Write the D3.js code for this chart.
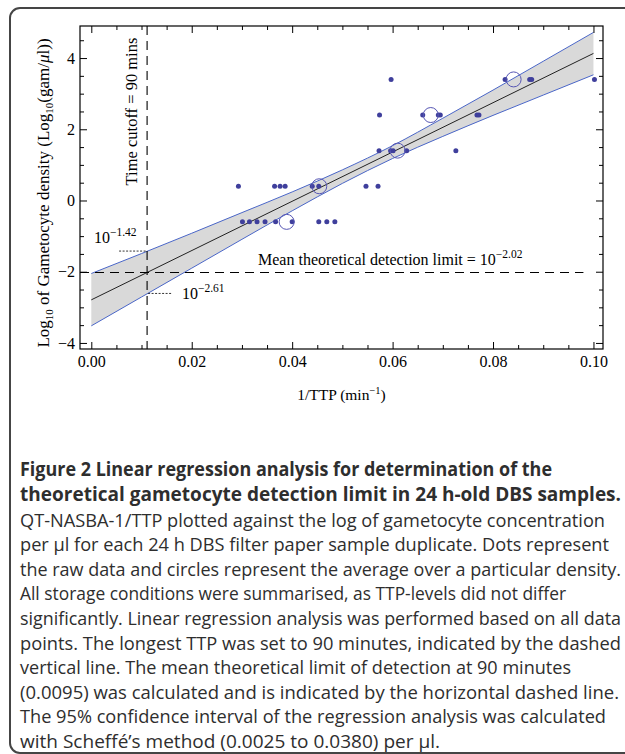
<!DOCTYPE html>
<html>
<head>
<meta charset="utf-8">
<script src="https://cdn.jsdelivr.net/npm/d3@7"></script>
<style>
  body { margin: 0; background: #fff; }
</style>
</head>
<body>
<div id="chart-container"></div>
<script>
// raw data points (1/TTP, log10 density)
const dotX = [
  0.0597, 0.0824, 0.0873, 0.0877, 0.1002,
  0.0574, 0.0660, 0.0691, 0.0695, 0.0768, 0.0772,
  0.0573, 0.0596, 0.0601, 0.0628, 0.0726,
  0.0293, 0.0365, 0.0376, 0.0386, 0.0440, 0.0453, 0.0547, 0.0571,
  0.0301, 0.0315, 0.0330, 0.0346, 0.0367, 0.0400, 0.0453, 0.0469, 0.0485
];
const dotY = [
  3.4, 3.4, 3.4, 3.4, 3.4,
  2.4, 2.4, 2.4, 2.4, 2.4, 2.4,
  1.4, 1.4, 1.4, 1.4, 1.4,
  0.4, 0.4, 0.4, 0.4, 0.4, 0.4, 0.4, 0.4,
  -0.6, -0.6, -0.6, -0.6, -0.6, -0.6, -0.6, -0.6, -0.6
];
// averages per density (open circles)
const meanX = [0.0841, 0.0676, 0.0610, 0.0454, 0.0389];
const meanY = [3.4, 2.4, 1.4, 0.4, -0.6];

// regression line and Scheffe band
const regX = [0, 0.1];
const regY = [-2.79, 4.13];
const bandX  = [0, 0.01, 0.02, 0.03, 0.04, 0.05, 0.06, 0.07, 0.08, 0.09, 0.10];
const bandHi = [-2.05, -1.49, -0.92, -0.34, 0.24, 0.86, 1.54, 2.31, 3.10, 3.91, 4.72];
const bandLo = [-3.52, -2.71, -1.90, -1.09, -0.29, 0.48, 1.18, 1.80, 2.39, 2.96, 3.53];

// reference lines
const cutoffX = 1 / 90;
const limitY = -2.02;
const limitEndX = 0.098;
const ciHi = -1.42;
const ciLo = -2.61;

// ticks
const xTicks = [0, 0.02, 0.04, 0.06, 0.08, 0.10];
const yTicks = [-4, -2, 0, 2, 4];

// caption
const captionBold = [
  "Figure 2 Linear regression analysis for determination of the",
  "theoretical gametocyte detection limit in 24 h-old DBS samples."
];
const captionText = [
  "QT-NASBA-1/TTP plotted against the log of gametocyte concentration",
  "per \u00b5l for each 24 h DBS filter paper sample duplicate. Dots represent",
  "the raw data and circles represent the average over a particular density.",
  "All storage conditions were summarised, as TTP-levels did not differ",
  "significantly. Linear regression analysis was performed based on all data",
  "points. The longest TTP was set to 90 minutes, indicated by the dashed",
  "vertical line. The mean theoretical limit of detection at 90 minutes",
  "(0.0095) was calculated and is indicated by the horizontal dashed line.",
  "The 95% confidence interval of the regression analysis was calculated",
  "with Scheff\u00e9\u2019s method (0.0025 to 0.0380) per \u00b5l."
];
// where each caption line ends in the printed figure (layout only)
const boldEnds = [552, 621];
const textEnds = [605, 609, 621, 566, 621, 621, 571, 619, 606, 440];

const W = 625, H = 754;
const plot = { left: 80, right: 603, top: 26, bottom: 349 };
const serif = "'Liberation Serif', 'Times New Roman', serif";
const sans = "'Open Sans', 'Noto Sans', sans-serif";
const dotColor = "#3f3f9c";
const bandColor = "#4a66c8";

const x = d3.scaleLinear().domain([-0.00225, 0.1019]).range([plot.left, plot.right]);
const y = d3.scaleLinear().domain([-4.17, 4.9]).range([plot.bottom, plot.top]);

const svg = d3.select("#chart-container")
  .append("svg")
  .attr("width", W)
  .attr("height", H);

// outer rounded frame (runs off the right/bottom edge)
svg.append("rect")
  .attr("x", 10).attr("y", 8)
  .attr("width", 700).attr("height", 745)
  .attr("rx", 10)
  .attr("fill", "none")
  .attr("stroke", "#454545")
  .attr("stroke-width", 2);

// confidence band
const bandData = bandX.map((d, i) => ({ x: d, lo: bandLo[i], hi: bandHi[i] }));
svg.append("path")
  .datum(bandData)
  .attr("fill", "#d9d9d9")
  .attr("d", d3.area().curve(d3.curveMonotoneX)
    .x(d => x(d.x)).y0(d => y(d.lo)).y1(d => y(d.hi)));

["hi", "lo"].forEach(k => {
  svg.append("path")
    .datum(bandData)
    .attr("fill", "none")
    .attr("stroke", bandColor)
    .attr("stroke-width", 1)
    .attr("d", d3.line().curve(d3.curveMonotoneX).x(d => x(d.x)).y(d => y(d[k])));
});

// regression line
svg.append("path")
  .datum(regX.map((d, i) => [d, regY[i]]))
  .attr("fill", "none")
  .attr("stroke", "#222")
  .attr("stroke-width", 1)
  .attr("d", d3.line().x(d => x(d[0])).y(d => y(d[1])));

// dashed cutoff + detection limit
svg.append("line")
  .attr("x1", x(cutoffX)).attr("x2", x(cutoffX))
  .attr("y1", plot.top).attr("y2", plot.bottom)
  .attr("stroke", "#000").attr("stroke-width", 1.1)
  .attr("stroke-dasharray", "9,6");
svg.append("line")
  .attr("x1", plot.left).attr("x2", x(limitEndX))
  .attr("y1", y(limitY)).attr("y2", y(limitY))
  .attr("stroke", "#000").attr("stroke-width", 1.1)
  .attr("stroke-dasharray", "9,6");

// short leaders for the CI at the cutoff
svg.append("line")
  .attr("x1", x(cutoffX) - 28).attr("x2", x(cutoffX) - 1)
  .attr("y1", y(ciHi)).attr("y2", y(ciHi))
  .attr("stroke", "#000").attr("stroke-width", 0.8)
  .attr("stroke-dasharray", "2,1.5");
svg.append("line")
  .attr("x1", x(cutoffX) + 1).attr("x2", x(cutoffX) + 24)
  .attr("y1", y(ciLo)).attr("y2", y(ciLo))
  .attr("stroke", "#000").attr("stroke-width", 0.8)
  .attr("stroke-dasharray", "2,1.5");

// data dots
svg.append("g")
  .selectAll("circle")
  .data(dotX.map((d, i) => [d, dotY[i]]))
  .join("circle")
  .attr("cx", d => x(d[0]))
  .attr("cy", d => y(d[1]))
  .attr("r", 2.5)
  .attr("fill", dotColor);

// average circles
svg.append("g")
  .selectAll("circle")
  .data(meanX.map((d, i) => [d, meanY[i]]))
  .join("circle")
  .attr("cx", d => x(d[0]))
  .attr("cy", d => y(d[1]))
  .attr("r", 7.5)
  .attr("fill", "none")
  .attr("stroke", "#5656b4")
  .attr("stroke-width", 1);

// frame axes, ticks pointing inward
function minor(lo, hi, step, majors) {
  return d3.range(lo, hi + step / 2, step)
    .filter(v => !majors.some(m => Math.abs(m - v) < 1e-9));
}
const xMinor = minor(0, 0.1, 0.005, xTicks);
const yMinor = minor(-4, 4.5, 0.5, yTicks);

function styleAxis(g) {
  g.select(".domain").remove();
  g.selectAll("line").attr("stroke", "#000");
  g.selectAll("text").attr("fill", "#000").style("font-family", serif).style("font-size", "16px");
}

svg.append("g").attr("transform", `translate(0,${plot.bottom})`)
  .call(d3.axisBottom(x).tickValues(xTicks).tickSizeInner(-7).tickSizeOuter(0)
    .tickPadding(7).tickFormat(d3.format(".2f"))).call(styleAxis);
svg.append("g").attr("transform", `translate(0,${plot.bottom})`)
  .call(d3.axisBottom(x).tickValues(xMinor).tickSizeInner(-4).tickSizeOuter(0).tickFormat(""))
  .call(styleAxis);
svg.append("g").attr("transform", `translate(0,${plot.top})`)
  .call(d3.axisTop(x).tickValues(xTicks).tickSizeInner(-7).tickSizeOuter(0).tickFormat(""))
  .call(styleAxis);
svg.append("g").attr("transform", `translate(0,${plot.top})`)
  .call(d3.axisTop(x).tickValues(xMinor).tickSizeInner(-4).tickSizeOuter(0).tickFormat(""))
  .call(styleAxis);

svg.append("g").attr("transform", `translate(${plot.left},0)`)
  .call(d3.axisLeft(y).tickValues(yTicks).tickSizeInner(-7).tickSizeOuter(0)
    .tickPadding(5).tickFormat(d3.format("d"))).call(styleAxis);
svg.append("g").attr("transform", `translate(${plot.left},0)`)
  .call(d3.axisLeft(y).tickValues(yMinor).tickSizeInner(-4).tickSizeOuter(0).tickFormat(""))
  .call(styleAxis);
svg.append("g").attr("transform", `translate(${plot.right},0)`)
  .call(d3.axisRight(y).tickValues(yTicks).tickSizeInner(-7).tickSizeOuter(0).tickFormat(""))
  .call(styleAxis);
svg.append("g").attr("transform", `translate(${plot.right},0)`)
  .call(d3.axisRight(y).tickValues(yMinor).tickSizeInner(-4).tickSizeOuter(0).tickFormat(""))
  .call(styleAxis);

svg.append("rect")
  .attr("x", plot.left).attr("y", plot.top)
  .attr("width", plot.right - plot.left).attr("height", plot.bottom - plot.top)
  .attr("fill", "none").attr("stroke", "#000").attr("stroke-width", 1.2);

// text helpers
function label(parent, px, py, anchor, size) {
  return parent.append("text")
    .attr("x", px).attr("y", py)
    .attr("text-anchor", anchor || "start")
    .style("font-family", serif)
    .style("font-size", (size || 16) + "px")
    .attr("fill", "#000");
}
function power(t, base, exp) {
  t.append("tspan").text(base);
  t.append("tspan").attr("dy", -7).style("font-size", "11.5px").text(exp);
}

// axis titles
const xt = label(svg, (plot.left + plot.right) / 2, 400, "middle", 15.5);
xt.append("tspan").text("1/TTP (min");
xt.append("tspan").attr("dy", -6).style("font-size", "10.5px").text("\u22121");
xt.append("tspan").attr("dy", 6).text(")");

const yt = label(svg, 0, 0, "middle", 17).attr("transform", "translate(49,193) rotate(-90)");
yt.append("tspan").text("Log");
yt.append("tspan").attr("dy", 4).style("font-size", "11px").text("10");
yt.append("tspan").attr("dy", -4).text(" of Gametocyte density (Log");
yt.append("tspan").attr("dy", 4).style("font-size", "11px").text("10");
yt.append("tspan").attr("dy", -4).text("(gam/");
yt.append("tspan").style("font-style", "italic").text("\u03bc");
yt.append("tspan").text("l))");

// annotations
label(svg, 0, 0, "middle", 16.5)
  .attr("transform", `translate(${x(cutoffX) - 10},${(plot.top + 185) / 2 + 6}) rotate(-90)`)
  .text("Time cutoff = 90 mins");

power(label(svg, 258, 265), "Mean theoretical detection limit = 10", "\u22122.02");
power(label(svg, 94, 243), "10", "\u22121.42");
power(label(svg, 182, 299), "10", "\u22122.61");

// caption
const cap = svg.append("g").attr("fill", "#2e2e2e").style("font-family", sans);
const boldLines = cap.selectAll("text.b")
  .data(captionBold).join("text").attr("class", "b")
  .attr("x", 20).attr("y", (d, i) => 476 + i * 24.6)
  .style("font-weight", 700).style("font-size", "16px")
  .text(d => d);
const textLines = cap.selectAll("text.r")
  .data(captionText).join("text").attr("class", "r")
  .attr("x", 20).attr("y", (d, i) => 526.5 + i * 24.6)
  .style("font-size", "16px")
  .text(d => d);

// fit font size to the measured width of a reference line,
// then stretch each line to where it ends in the print
function fit(sel, idx, ends) {
  const w = sel.nodes()[idx].getComputedTextLength();
  sel.style("font-size", (16 * (ends[idx] - 20) / w).toFixed(2) + "px")
    .attr("textLength", (d, i) => ends[i] - 20)
    .attr("lengthAdjust", "spacingAndGlyphs");
}
fit(boldLines, 1, boldEnds);
fit(textLines, 2, textEnds);
</script>
</body>
</html>
